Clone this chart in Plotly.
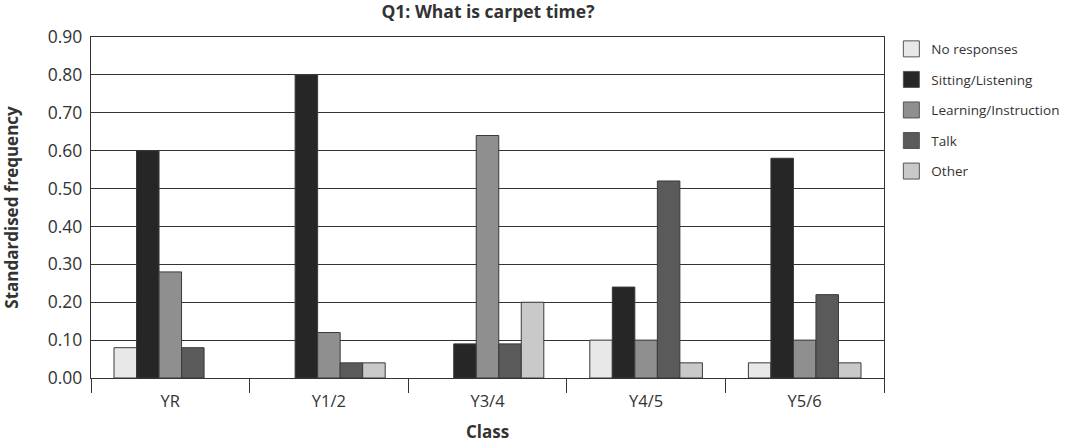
import plotly.graph_objects as go

classes = ["YR", "Y1/2", "Y3/4", "Y4/5", "Y5/6"]
series_names = ["No responses", "Sitting/Listening", "Learning/Instruction", "Talk", "Other"]
no_responses = [0.08, 0.00, 0.00, 0.10, 0.04]
sitting_listening = [0.60, 0.80, 0.09, 0.24, 0.58]
learning_instruction = [0.28, 0.12, 0.64, 0.10, 0.10]
talk = [0.08, 0.04, 0.09, 0.52, 0.22]
other = [0.00, 0.04, 0.20, 0.04, 0.04]
y_ticks = [0.0, 0.1, 0.2, 0.3, 0.4, 0.5, 0.6, 0.7, 0.8, 0.9]

series_values = [no_responses, sitting_listening, learning_instruction, talk, other]
colors = ["#e8e8e8", "#262626", "#8f8f8f", "#5a5a5a", "#c9c9c9"]
font_family = "'Open Sans', sans-serif"
text_color = "#333333"

fig = go.Figure()
for name, vals, col in zip(series_names, series_values, colors):
    fig.add_trace(go.Bar(
        x=classes, y=vals, name=name,
        marker=dict(color=col, line=dict(color="#3a3a3a", width=[1 if v > 0 else 0 for v in vals])),
        showlegend=False,
    ))
for i, (name, col) in enumerate(zip(series_names, colors)):
    fig.add_trace(go.Scatter(
        x=[None], y=[None], mode="markers", name=name, legendgroup=f"g{i}",
        marker=dict(symbol="square", size=16, color=col, line=dict(color="#555555", width=1)),
    ))

fig.update_layout(
    width=1076, height=443,
    margin=dict(l=91, r=191, t=37, b=65),
    paper_bgcolor="white", plot_bgcolor="white",
    barmode="group", bargap=0.29, bargroupgap=0,
    font=dict(family=font_family, color=text_color, size=14),
    title=dict(text="<b>Q1: What is carpet time?</b>", x=0.4535, xanchor="center",
               yref="container", y=0.973, yanchor="middle", font=dict(size=17.5, color=text_color)),
    legend=dict(x=1.008, xanchor="left", y=1.01, yanchor="top", tracegroupgap=10,
                font=dict(size=13.5, color=text_color), itemwidth=30, bgcolor="rgba(0,0,0,0)"),
    xaxis=dict(
        title=dict(text="<b>Class</b>", font=dict(size=17, color=text_color), standoff=15),
        tickson="boundaries", ticks="outside", ticklen=14, tickcolor="#333333", tickwidth=1.3,
        showline=True, linecolor="#333333", linewidth=1.3, mirror=True, automargin=False,
        showgrid=False, tickfont=dict(size=16.5, color=text_color), ticklabelstandoff=8,
    ),
    yaxis=dict(
        title=dict(text="<b>Standardised frequency</b>", font=dict(size=17, color=text_color), standoff=36),
        range=[0, 0.9], tickvals=y_ticks, ticktext=[f"{v:.2f}" for v in y_ticks],
        showgrid=True, gridcolor="#333333", gridwidth=1.3, automargin=False,
        showline=True, linecolor="#333333", linewidth=1.3, mirror=True,
        ticks="", tickfont=dict(size=17.5, color=text_color), zeroline=False, ticklabelstandoff=4,
    ),
)

fig.write_html("out.html", config={"displayModeBar": False},
               post_script="document.body.style.margin='0';")
